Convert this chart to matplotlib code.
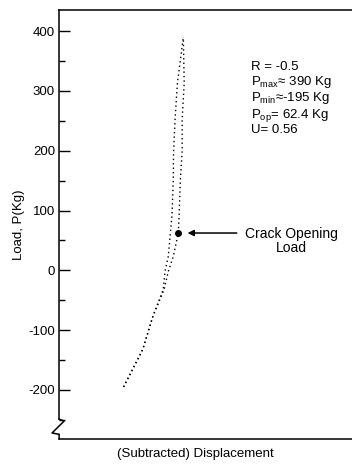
import matplotlib.pyplot as plt
import numpy as np
from matplotlib.ticker import MultipleLocator
import matplotlib.transforms as mtransforms

plt.rcParams['font.family'] = ['Liberation Sans', 'DejaVu Sans']
plt.rcParams['mathtext.default'] = 'regular'
plt.rcParams['axes.unicode_minus'] = False

# Load-displacement loop (displacement in arbitrary units)
branch_a_disp = [21.8, 28.3, 31.7, 35.5, 36.9, 38.6, 40.3, 40.6, 41.0, 41.6, 41.6, 42.3, 42.0]
branch_a_load = [-195, -132, -77, -32, -2, 23, 62.4, 95, 152, 199, 252, 313, 390]
branch_b_disp = [21.8, 28.3, 31.7, 35.2, 35.8, 36.9, 37.5, 38.2, 38.6, 38.7, 39.2, 40.0, 42.0]
branch_b_load = [-195, -132, -77, -32, -2, 23, 55, 95, 152, 199, 252, 313, 390]

p_op_disp = 40.3
p_op_load = 62.4

yticks = [-200, -100, 0, 100, 200, 300, 400]

fig = plt.figure(figsize=(3.52, 4.65), dpi=100)
ax = fig.add_axes([0.168, 0.056, 0.84, 0.922])

ax.plot(branch_a_disp, branch_a_load, color='black', lw=1.0, ls=(0, (1, 2.2)))
ax.plot(branch_b_disp, branch_b_load, color='black', lw=1.0, ls=(0, (1, 2.2)))
ax.plot([p_op_disp], [p_op_load], 'o', color='black', ms=4)

ax.annotate('', xy=(p_op_disp + 2.2, p_op_load), xytext=(61.0, p_op_load),
            arrowprops=dict(arrowstyle='-|>', color='black', lw=1.1, mutation_scale=9))
ax.text(78.5, p_op_load + 10, 'Crack Opening\nLoad', ha='center', va='top',
        multialignment='center', fontsize=10, linespacing=1.0)

ax.text(65, 350, 'R = -0.5\n$P_{max}$≈ 390 Kg\n$P_{min}$≈-195 Kg\n$P_{op}$= 62.4 Kg\nU= 0.56',
        ha='left', va='top', fontsize=9.5, linespacing=1.05)

ax.set_xlim(0, 100)
ax.set_ylim(-282, 435)
ax.set_yticks(yticks)
ax.yaxis.set_minor_locator(MultipleLocator(50))
ax.tick_params(axis='y', which='major', direction='in', length=8, width=1.0, labelsize=9.5, pad=3)
ax.tick_params(axis='y', which='minor', direction='in', length=4, width=1.0)
ax.set_xticks([])
ax.spines['right'].set_visible(False)
for s in ['left', 'top', 'bottom']:
    ax.spines[s].set_linewidth(1.1)

# axis break on left spine
ax.spines['left'].set_bounds(-249, 435)
trans = mtransforms.blended_transform_factory(ax.transAxes, ax.transData)
zx = [0.0, 0.017, -0.024, -0.003, 0.0, 0.0]
zy = [-249, -252, -272, -274, -274, -282]
ax.plot(zx, zy, color='black', lw=1.1, transform=trans, clip_on=False)

ax.set_ylabel('Load, P(Kg)', fontsize=9.5, labelpad=2)
ax.set_xlabel('(Subtracted) Displacement', fontsize=9.5, labelpad=4)
ax.xaxis.set_label_coords(0.46, -0.02)

fig.savefig('out.png', dpi=100)
